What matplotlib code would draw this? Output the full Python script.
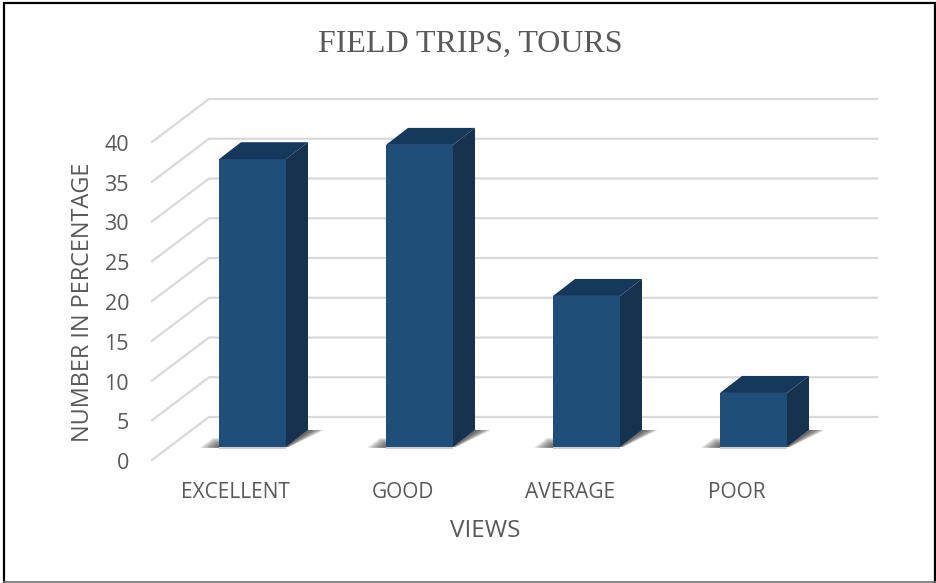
import numpy as np
import matplotlib
matplotlib.use('Agg')
import matplotlib.pyplot as plt
from matplotlib.patches import Polygon, Rectangle

categories = ['EXCELLENT', 'GOOD', 'AVERAGE', 'POOR']
values = [36.2, 38, 19, 6.8]
y_ticks = [0, 5, 10, 15, 20, 25, 30, 35, 40]

W, H = 937, 583
# pixel layout of the fake 3d chart
X0_PX = 252.5     # centre of first bar
STEP_PX = 167.0   # bar spacing
Y0_PX = 447.0     # bar base
UNIT_PX = 7.95    # pixels per percent

BAR_W = 67 / STEP_PX
DX = 22 / STEP_PX
DY = 17 / UNIT_PX

FRONT_COLOR = '#1f4e79'
TOP_COLOR = '#16385c'
SIDE_COLOR = '#16324f'
GRID_COLOR = '#d9d9d9'
TEXT_COLOR = '#595959'

fig = plt.figure(figsize=(W / 100, H / 100), dpi=100, facecolor='white')
ax = fig.add_axes([0, 0, 1, 1])
ax.set_xlim(-X0_PX / STEP_PX, (W - X0_PX) / STEP_PX)
ax.set_ylim(-(H - Y0_PX) / UNIT_PX, Y0_PX / UNIT_PX)
ax.axis('off')

# floor front and back edges relative to the bar plane
front_x = (152 - X0_PX) / STEP_PX
wall_x = (209 - X0_PX) / STEP_PX
right_x = (877 - X0_PX) / STEP_PX
front_dy = -13 / UNIT_PX
back_dy = 30 / UNIT_PX

for t in y_ticks:
    ax.plot([front_x, wall_x, right_x], [t + front_dy, t + back_dy, t + back_dy],
            color=GRID_COLOR, lw=1.6, solid_joinstyle='miter', zorder=1)
    ax.text((129 - X0_PX) / STEP_PX, t + front_dy - 1 / UNIT_PX, str(t), ha='right', va='center_baseline',
            fontsize=15.5, family='Open Sans', color=TEXT_COLOR)

for i, (name, v) in enumerate(zip(categories, values)):
    left = i - BAR_W / 2
    right = i + BAR_W / 2

    # soft shadow on the floor, stacked low alpha layers
    for k in range(10):
        f = 1 - k / 10
        ax.add_patch(Polygon([(right, 0), (right + DX, DY), (right + DX + f * 16 / STEP_PX, DY),
                              (right + f * 3 / STEP_PX, 0)],
                             facecolor='#404040', edgecolor='none', alpha=0.14, zorder=2))
        ax.add_patch(Polygon([(left - f * 19 / STEP_PX, -0.1), (left - f * 6 / STEP_PX, f * 9 / UNIT_PX),
                              (left, f * 9 / UNIT_PX), (left, -0.1)],
                             facecolor='#404040', edgecolor='none', alpha=0.13, zorder=2))
    ax.add_patch(Rectangle((left, -0.2), BAR_W, 0.2, facecolor='#a0a0a0', edgecolor='none',
                           alpha=0.5, zorder=2))

    ax.add_patch(Rectangle((left, 0), BAR_W, v, facecolor=FRONT_COLOR, edgecolor='none', zorder=3))
    ax.add_patch(Polygon([(left, v), (right, v), (right + DX, v + DY), (left + DX, v + DY)],
                         facecolor=TOP_COLOR, edgecolor='none', zorder=3))
    ax.add_patch(Polygon([(right, 0), (right + DX, DY), (right + DX, v + DY), (right, v)],
                         facecolor=SIDE_COLOR, edgecolor='none', zorder=3))

    ax.text(i - 0.1, -46 / UNIT_PX, name, ha='center', va='center',
            fontsize=15, family='Open Sans', color=TEXT_COLOR)

ax.text(470 / W, 1 - 44 / H, 'FIELD TRIPS, TOURS', transform=ax.transAxes, ha='center', va='center',
        fontsize=23, family='Liberation Serif', color=TEXT_COLOR)
ax.text(485 / W, 1 - 531 / H, 'VIEWS', transform=ax.transAxes, ha='center', va='center',
        fontsize=17.5, family='Open Sans', color=TEXT_COLOR)
ax.text(83 / W, 1 - 302 / H, 'NUMBER IN PERCENTAGE', transform=ax.transAxes, ha='center', va='center',
        rotation=90, fontsize=16.9, family='Open Sans', color=TEXT_COLOR)

# outer frame: black on three sides, thin grey at the bottom
frame_l, frame_r, frame_t, frame_b = 4 / W, 935 / W, 1 - 2.5 / H, 1 - 582 / H
ax.plot([frame_l, frame_l, frame_r, frame_r], [frame_b, frame_t, frame_t, frame_b], transform=ax.transAxes,
        color='black', lw=1.6, solid_joinstyle='miter', zorder=5)
ax.plot([frame_l, frame_r], [frame_b, frame_b], transform=ax.transAxes, color='#707070', lw=1.2, zorder=5)

fig.savefig('out.png', dpi=100)
